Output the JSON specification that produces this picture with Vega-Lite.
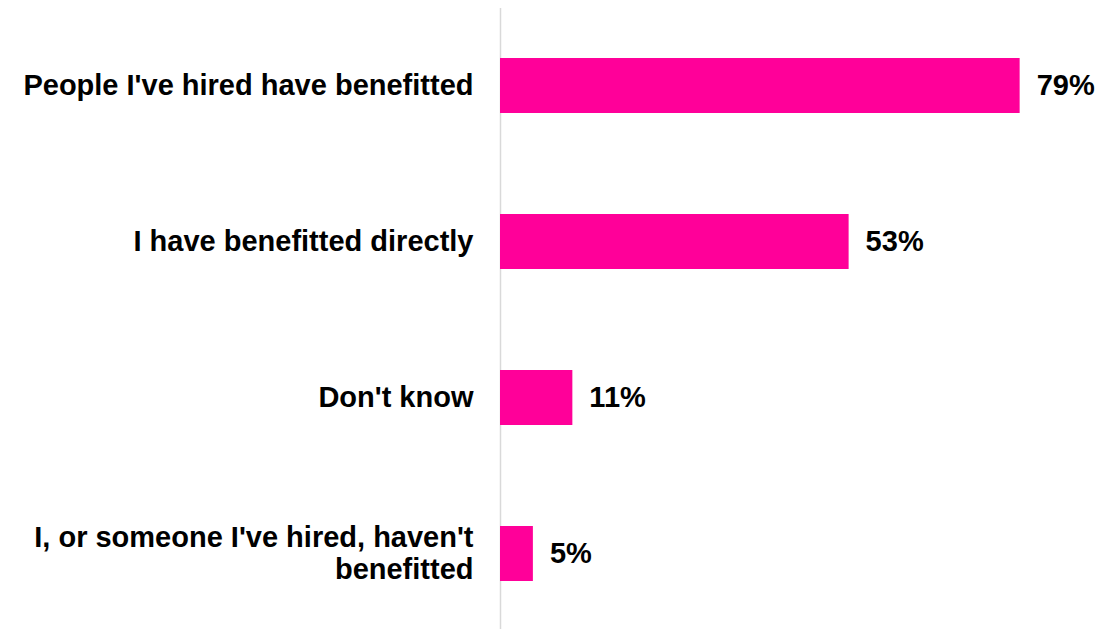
{
  "$schema": "https://vega.github.io/schema/vega-lite/v6.json",
  "width": 592,
  "height": 624,
  "autosize": {"type": "none"},
  "padding": {"left": 500, "top": 7.5, "right": 28, "bottom": 0},
  "background": "white",
  "config": {"view": {"stroke": null}, "font": "Liberation Sans"},
  "data": {
    "values": [
      {"label": "People I've hired have benefitted", "value": 0.79},
      {"label": "I have benefitted directly", "value": 0.53},
      {"label": "Don't know", "value": 0.11},
      {"label": "I, or someone I've hired, haven't benefitted", "value": 0.05}
    ]
  },
  "encoding": {
    "y": {
      "field": "label",
      "type": "nominal",
      "sort": null,
      "scale": {"paddingInner": 0.647, "paddingOuter": 0.3235},
      "axis": {
        "title": null,
        "ticks": false,
        "labelPadding": 27,
        "labelFont": "Liberation Sans",
        "labelFontSize": 29,
        "labelFontWeight": "bold",
        "labelColor": "#000000",
        "labelLimit": 600,
        "labelLineHeight": 32,
        "labelOffset": {"condition": {"test": "length(datum.value) > 40", "value": -16}, "value": 0},
        "domainColor": "#d9d9d9",
        "domainWidth": 1.5,
        "labelExpr": "datum.value == \"I, or someone I've hired, haven't benefitted\" ? [\"I, or someone I've hired, haven't\", \"benefitted\"] : datum.value"
      }
    },
    "x": {
      "field": "value",
      "type": "quantitative",
      "scale": {"domain": [0, 0.9], "nice": false},
      "axis": null
    }
  },
  "layer": [
    {"mark": {"type": "bar", "color": "#ff0099"}},
    {
      "mark": {"type": "text", "align": "left", "baseline": "middle", "dx": 17, "font": "Liberation Sans", "fontSize": 29, "fontWeight": "bold", "color": "#000000"},
      "encoding": {"text": {"field": "value", "type": "quantitative", "format": ".0%"}}
    }
  ]
}
